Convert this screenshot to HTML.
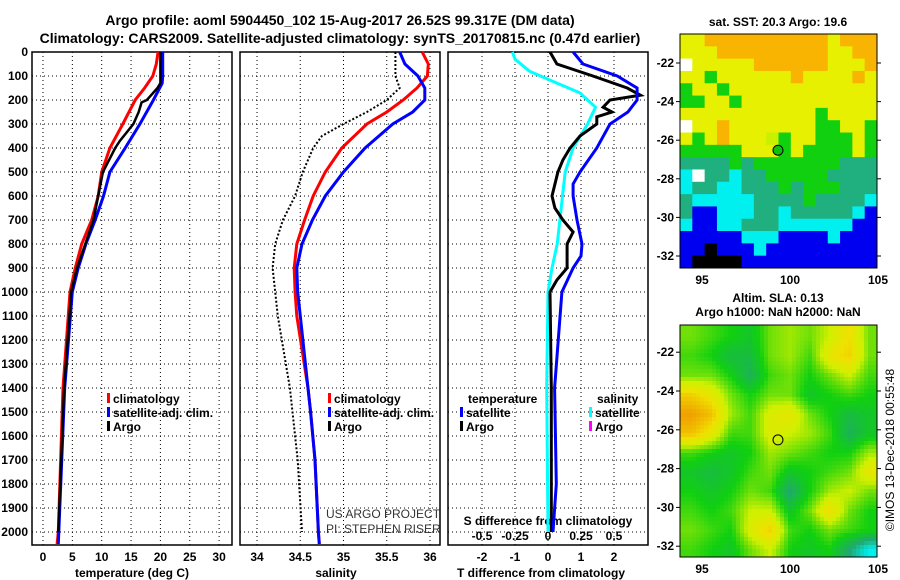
<!DOCTYPE html>
<html><head><meta charset="utf-8"><style>
html,body{margin:0;padding:0;background:#fff}
svg{display:block;font-family:"Liberation Sans",sans-serif;font-weight:bold}
</style></head><body>
<svg id="chart" width="900" height="580" viewBox="0 0 900 580">
<text x="340" y="25" font-size="14" text-anchor="middle">Argo profile: aoml 5904450_102 15-Aug-2017 26.52S 99.317E (DM data)</text>
<text x="340" y="43" font-size="14" text-anchor="middle">Climatology: CARS2009. Satellite-adjusted climatology: synTS_20170815.nc (0.47d earlier)</text>
<g id="g"></g>
</svg>
<script>
// ---- data ----
const depthTicks=[0,100,200,300,400,500,600,700,800,900,1000,1100,1200,1300,1400,1500,1600,1700,1800,1900,2000];
const tTicks=[0,5,10,15,20,25,30];
const sTicks=[34,34.5,35,35.5,36];
const dTicks=[-2,-1,0,1,2];
const sdTickLabels=["-0.5","-0.25","0","0.25","0.5"];
const sdTicks=[-0.5,-0.25,0,0.25,0.5];

const tDepthClim=[0,50,100,150,200,300,400,500,600,700,800,900,1000,1400,2000,2050];
const tempClim=[19.6,19.3,18.7,17.3,15.7,13.6,11.4,10,9.4,8.3,6.6,5.5,4.6,3.4,2.6,2.4];
const tDepthSat=[0,100,130,200,300,400,500,600,700,800,900,1000,1400,2000,2050];
const tempSat=[20.4,20.4,20.3,18.8,16.5,14,11.4,10.3,8.9,7.3,6,5,3.7,2.7,2.6];
const tDepthArgo=[0,130,150,200,210,250,300,370,400,500,600,700,800,900,1000,1400,2000];
const tempArgo=[20,20,19.5,17.7,16.8,16.3,15.4,13.1,12.3,10.2,9.4,8.6,7.2,5.8,4.8,3.6,2.6];

const sDepth=[0,50,100,150,200,250,300,400,500,600,700,800,900,1000,1100,1400,1500,1700,2000,2050];
const salClim=[35.91,35.98,35.97,35.85,35.69,35.5,35.27,34.98,34.79,34.65,34.55,34.46,34.43,34.44,34.46,34.59,34.62,34.67,34.71,34.72];
const salSat=[35.65,35.71,35.86,35.94,35.94,35.8,35.57,35.25,35.0,34.79,34.64,34.52,34.46,34.47,34.5,34.59,34.62,34.67,34.71,34.72];
const sDepthArgo=[0,100,150,200,250,300,350,400,500,600,700,800,900,1000,1100,1400,1500,1700,2000];
const salArgo=[35.6,35.6,35.65,35.5,35.27,35.0,34.75,34.65,34.53,34.44,34.3,34.21,34.18,34.21,34.24,34.38,34.41,34.47,34.52];

const dDepthT=[0,50,100,150,200,250,300,400,500,550,600,700,800,850,900,1000,1400,1800,2000];
const tDiffSat=[0.76,1.06,2.1,2.7,2.7,2.42,1.88,1.48,0.97,0.76,0.76,0.88,1.03,1.0,0.76,0.42,0.2,0.25,0.15];
const dDepthA=[0,50,100,150,180,200,230,250,270,300,350,400,450,500,600,650,700,750,800,900,950,1000,1400,2000];
const tDiffArgo=[0.06,0.27,1.36,2.4,2.8,1.88,1.67,1.94,1.48,1.48,0.97,0.67,0.45,0.3,0.12,0.21,0.45,0.76,0.58,0.58,0.27,0.06,0.1,0.1];
const dDepthS=[0,30,80,130,170,230,300,400,500,600,700,800,900,1000,1400,2000];
const sDiffSat=[-0.27,-0.25,-0.14,0.07,0.24,0.36,0.3,0.19,0.13,0.11,0.09,0.07,0.03,0.0,-0.01,0.0];

const sstRows=["yyooooooooooyooo","yyyoooooooooyyoo","wyyyyyooooooyyyo","yygyyyyyyoyyyyoy","gyygyyyyyyyyyyyy","ggyygyyyyyyyyyyy","yyyyyyyyyyygyyyy","wyyoyyyyyyyggyyg","ygyoyyyYgyygggyg","gggggyyygyggggyg","ttttgtgggggggttt","cwttcttgggggtttt","cttcctttgtgggttt","tcccccttttgttttc","tbbcccttctttttcb","cbbcctttccccccbb","bbbbbcccbbbbcbbb","bbkbbbcbbbbbbbbb","bkkkkbbbbbbbbbbb"];
const slaGrid=[
[0.5,0.45,0.4,0.35,0.5,0.55,0.5,0.6,0.75,0.5],
[0.45,0.4,0.3,0.3,0.5,0.55,0.45,0.7,0.8,0.5],
[0.5,0.5,0.4,0.25,0.45,0.5,0.4,0.5,0.6,0.45],
[0.8,0.7,0.5,0.4,0.5,0.5,0.35,0.4,0.45,0.4],
[0.95,0.85,0.55,0.45,0.65,0.7,0.5,0.4,0.3,0.35],
[0.85,0.7,0.45,0.45,0.65,0.6,0.55,0.45,0.25,0.35],
[0.45,0.4,0.35,0.4,0.55,0.5,0.45,0.4,0.4,0.55],
[0.35,0.3,0.35,0.45,0.5,0.35,0.4,0.45,0.5,0.7],
[0.4,0.35,0.4,0.5,0.45,0.2,0.4,0.55,0.6,0.5],
[0.45,0.4,0.45,0.6,0.6,0.35,0.5,0.75,0.5,0.4],
[0.5,0.45,0.4,0.65,0.8,0.45,0.4,0.5,0.45,0.4],
[0.45,0.4,0.35,0.5,0.6,0.4,0.35,0.4,0.2,0.0]];
const latTicks=[-22,-24,-26,-28,-30,-32];
const lonTicks=[95,100,105];

// ---- helpers ----
const NS="http://www.w3.org/2000/svg";
const G=document.getElementById('g');
function mk(tag,attrs,parent){const e=document.createElementNS(NS,tag);for(const k in attrs)e.setAttribute(k,attrs[k]);(parent||G).appendChild(e);return e;}
function txt(x,y,s,size,anchor,extra){const e=mk('text',Object.assign({x:x,y:y,'font-size':size||12,'text-anchor':anchor||'middle'},extra||{}));e.textContent=s;return e;}
const yD=d=>52+d*0.24;
const xT=t=>43+t*5.87;
const xS=s=>257+(s-34)*86.5;
const xDT=v=>548+v*33;
const xDS=v=>548+v*132;

function frame(x0,name){
  const r=mk('rect',{x:x0,y:52,width:200,height:493,fill:'none',stroke:'#000','stroke-width':1.5});
  
  
  depthTicks.forEach(d=>{const l=mk('line',{x1:x0,x2:x0+200,y1:yD(d),y2:yD(d),stroke:'#000','stroke-dasharray':'1,3'});
    
    });
}
function vgrid(xs,top){xs.forEach(x=>{const l=mk('line',{x1:x,x2:x,y1:52,y2:545,stroke:'#000','stroke-dasharray':'1,3'});
  
  });}
function line(xs,ds,fx,col,w,name,dash){
  const p=xs.map((v,i)=>fx(v).toFixed(1)+','+yD(ds[i]).toFixed(1)).join(' ');
  const e=mk('polyline',{points:p,fill:'none',stroke:col,'stroke-width':w});
  if(dash)e.setAttribute('stroke-dasharray',dash);
  
  
}
function legend(x,y,col,label){
  const r=mk('rect',{x:x,y:y-10,width:3,height:10,fill:col});
  
  
  const t=txt(x+6,y,label,12,'start');
  
  
}

// ---- panel 1: temperature ----
frame(32,'temperature-panel');
vgrid(tTicks.map(xT));
depthTicks.forEach(d=>{const t=txt(28,yD(d)+4,String(d),12,'end');
  
  });
tTicks.forEach(v=>{const t=txt(xT(v),561,String(v),12);
  
  });
{const t=txt(132,577,'temperature (deg C)',12);}
line(tempClim,tDepthClim,xT,'#f00',3,'temperature-climatology-line');
line(tempSat,tDepthSat,xT,'#00f',3,'temperature-satellite-line');
line(tempArgo,tDepthArgo,xT,'#000',2.5,'temperature-argo-line');
legend(107,403,'#f00','climatology');legend(107,417,'#00f','satellite-adj. clim.');legend(107,431,'#000','Argo');

// ---- panel 2: salinity ----
frame(240,'salinity-panel');
vgrid(sTicks.map(xS));
sTicks.forEach(v=>{const t=txt(xS(v),561,String(v),12);
  
  });
{const t=txt(336,577,'salinity',12);}
line(salArgo,sDepthArgo,xS,'#000',2,'salinity-argo-line','2,2');
line(salClim,sDepth,xS,'#f00',3,'salinity-climatology-line');
line(salSat,sDepth,xS,'#00f',3,'salinity-satellite-line');
legend(328,403,'#f00','climatology');legend(328,417,'#00f','satellite-adj. clim.');legend(328,431,'#000','Argo');
{const t=txt(326,518,'US ARGO PROJECT',12,'start',{'font-weight':'normal',fill:'#333'});}
{const t=txt(326,533,'PI: STEPHEN RISER',12,'start',{'font-weight':'normal',fill:'#333'});}

// ---- panel 3: differences ----
frame(448,'difference-panel');
vgrid(dTicks.map(xDT));
dTicks.forEach(v=>{const t=txt(xDT(v),561,String(v),12);
  
  });
sdTicks.forEach((v,i)=>{const t=txt(xDS(v),540,sdTickLabels[i],12);
  
  });
{const t=txt(548,525,'S difference from climatology',12);}
{const t=txt(541,577,'T difference from climatology',12);}
line(sDiffSat,dDepthS,xDS,'#0ff',3,'salinity-diff-satellite-line');
line(tDiffArgo,dDepthA,xDT,'#000',3,'temperature-diff-argo-line');
line(tDiffSat,dDepthT,xDT,'#00f',3,'temperature-diff-satellite-line');
{const t=txt(468,403,'temperature',12,'start');}
{const t=txt(597,403,'salinity',12,'start');}
legend(460,417,'#00f','satellite');legend(460,431,'#000','Argo');
legend(589,417,'#0ff','satellite');legend(589,431,'#f0f','Argo');

// ---- map 1: SST ----
const sstCol={o:'#f8b400',y:'#e6f000',Y:'#c8f000',g:'#10d010',t:'#20b080',c:'#00f0f0',b:'#0000f0',k:'#000',w:'#fff'};
const m1={x:680,y:34,w:197,h:234};
const cw=m1.w/16,ch=m1.h/sstRows.length;
sstRows.forEach((row,r)=>{[...row].forEach((c,i)=>{const e=mk('rect',{x:(m1.x+i*cw).toFixed(2),y:(m1.y+r*ch).toFixed(2),width:(cw+0.5).toFixed(2),height:(ch+0.5).toFixed(2),fill:sstCol[c]});
  
  });});
const lonX=(lon,m)=>m.x+(lon-93.75)*17.6;
const latY1=lat=>63+(-22-lat)*19.3;
function mapAxes(m,latY,name){
  const r=mk('rect',{x:m.x,y:m.y,width:m.w,height:m.h,fill:'none',stroke:'#000','stroke-width':1});
  
  
  latTicks.forEach(l=>{const y=latY(l);mk('line',{x1:m.x-4,x2:m.x,y1:y,y2:y,stroke:'#000'});mk('line',{x1:m.x+m.w,x2:m.x+m.w+4,y1:y,y2:y,stroke:'#000'});
    const t=txt(m.x-6,y+4,String(l),12,'end');
    
    });
  lonTicks.forEach(l=>{const x=lonX(l,m);
    const t=txt(x,m.y+m.h+16,String(l),12);
    
    });
}
mapAxes(m1,latY1,'sst-map');
{const c=mk('circle',{cx:lonX(99.317,m1),cy:latY1(-26.52),r:5,fill:'#10c010',stroke:'#000','stroke-width':1});}
{const t=txt(778,26,'sat. SST: 20.3 Argo: 19.6',12);}
{const t=txt(778,302,'Altim. SLA: 0.13',12);}
{const t=txt(778,316,'Argo h1000: NaN h2000: NaN',12);}

// ---- map 2: SLA ----
const m2={x:680,y:325,w:197,h:232};
const latY2=lat=>391+(-24-lat)*19.4;
const stops=[[0,[0,240,240]],[0.2,[32,168,112]],[0.4,[16,208,16]],[0.6,[208,240,0]],[0.75,[240,224,0]],[0.95,[240,160,0]]];
function cmap(v){for(let i=1;i<stops.length;i++){if(v<=stops[i][0]){const a=stops[i-1],b=stops[i],f=(v-a[0])/(b[0]-a[0]);return 'rgb('+a[1].map((c,k)=>Math.round(c+(b[1][k]-c)*f)).join(',')+')';}}return 'rgb(240,160,0)';}
const R=slaGrid.length,C=slaGrid[0].length,px=4;
for(let yy=0;yy<m2.h;yy+=px){for(let xx=0;xx<m2.w;xx+=px){
  const gy=Math.min(R-1,Math.max(0,yy/m2.h*R-0.5)),gx=Math.min(C-1,Math.max(0,xx/m2.w*C-0.5));
  const y0=Math.floor(gy),x0=Math.floor(gx),y1=Math.min(R-1,y0+1),x1=Math.min(C-1,x0+1),fy=gy-y0,fx=gx-x0;
  const v=slaGrid[y0][x0]*(1-fx)*(1-fy)+slaGrid[y0][x1]*fx*(1-fy)+slaGrid[y1][x0]*(1-fx)*fy+slaGrid[y1][x1]*fx*fy;
  const e=mk('rect',{x:m2.x+xx,y:m2.y+yy,width:Math.min(px,m2.w-xx),height:Math.min(px,m2.h-yy),fill:cmap(v)});
  
  
}}
mapAxes(m2,latY2,'sla-map');
{const c=mk('circle',{cx:lonX(99.317,m2),cy:latY2(-26.52),r:5,fill:'none',stroke:'#000','stroke-width':1});}
{const t=txt(0,0,'©IMOS 13-Dec-2018 00:55:48',12,'middle',{'font-weight':'normal',transform:'translate(894,450) rotate(-90)'});}
</script>
</body></html>
